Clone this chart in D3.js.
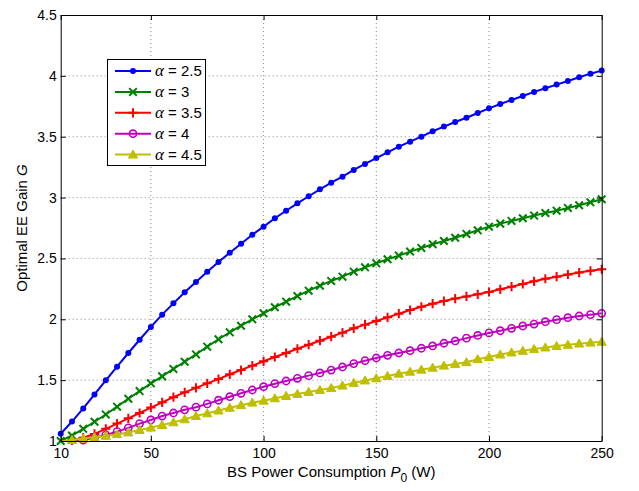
<!DOCTYPE html>
<html>
<head>
<meta charset="utf-8">
<script src="https://cdn.jsdelivr.net/npm/d3@7"></script>
<style>
    body { margin: 0; background: #fff; }
    text { font-family: "Liberation Sans", Arial, sans-serif; }
</style>
</head>
<body>
<svg id="chart" width="639" height="491"></svg>
<script>
// BS power consumption P0 (W), one sample every 5 W
const p0 = [10, 15, 20, 25, 30, 35, 40, 45, 50, 55, 60, 65, 70, 75, 80, 85, 90, 95, 100,
    105, 110, 115, 120, 125, 130, 135, 140, 145, 150, 155, 160, 165, 170, 175, 180, 185,
    190, 195, 200, 205, 210, 215, 220, 225, 230, 235, 240, 245, 250];

const gain_a25 = [1.06, 1.16, 1.268, 1.383, 1.499, 1.611, 1.723, 1.832, 1.937, 2.038, 2.131,
    2.222, 2.307, 2.391, 2.471, 2.547, 2.621, 2.695, 2.761, 2.830, 2.892, 2.953, 3.011, 3.068,
    3.122, 3.172, 3.227, 3.276, 3.325, 3.372, 3.418, 3.459, 3.500, 3.545, 3.583, 3.621, 3.656,
    3.695, 3.733, 3.769, 3.802, 3.835, 3.868, 3.898, 3.928, 3.958, 3.988, 4.018, 4.043];
const gain_a3 = [1.0, 1.045, 1.10, 1.158, 1.218, 1.282, 1.347, 1.41, 1.474, 1.531, 1.592,
    1.651, 1.711, 1.775, 1.836, 1.893, 1.947, 2.0, 2.049, 2.099, 2.145, 2.191, 2.235, 2.276,
    2.315, 2.35, 2.391, 2.427, 2.46, 2.493, 2.523, 2.556, 2.586, 2.617, 2.643, 2.670, 2.701,
    2.731, 2.761, 2.786, 2.808, 2.830, 2.852, 2.873, 2.892, 2.915, 2.937, 2.961, 2.986];
const gain_a35 = [0.995, 1.005, 1.027, 1.058, 1.10, 1.143, 1.186, 1.23, 1.275, 1.318, 1.36,
    1.40, 1.437, 1.474, 1.509, 1.548, 1.583, 1.619, 1.655, 1.690, 1.723, 1.758, 1.791, 1.824,
    1.857, 1.890, 1.926, 1.956, 1.986, 2.016, 2.046, 2.076, 2.103, 2.128, 2.150, 2.170, 2.188,
    2.205, 2.224, 2.246, 2.268, 2.290, 2.312, 2.333, 2.350, 2.368, 2.384, 2.398, 2.411];
const gain_a4 = [0.985, 0.995, 1.008, 1.027, 1.05, 1.077, 1.108, 1.143, 1.173, 1.205, 1.23,
    1.256, 1.278, 1.305, 1.335, 1.364, 1.392, 1.419, 1.446, 1.471, 1.493, 1.515, 1.537, 1.559,
    1.583, 1.608, 1.636, 1.66, 1.682, 1.704, 1.723, 1.742, 1.762, 1.781, 1.803, 1.822, 1.845,
    1.867, 1.888, 1.906, 1.926, 1.945, 1.961, 1.98, 1.997, 2.013, 2.027, 2.038, 2.049];
const gain_a45 = [0.995, 1.008, 1.02, 1.03, 1.042, 1.056, 1.07, 1.09, 1.11, 1.131, 1.153,
    1.178, 1.205, 1.227, 1.25, 1.273, 1.294, 1.315, 1.331, 1.351, 1.37, 1.386, 1.403, 1.419,
    1.435, 1.455, 1.477, 1.497, 1.515, 1.534, 1.553, 1.569, 1.586, 1.602, 1.619, 1.633, 1.647,
    1.672, 1.69, 1.71, 1.727, 1.741, 1.755, 1.768, 1.78, 1.79, 1.80, 1.808, 1.815];

const alpha_labels = ["2.5", "3", "3.5", "4", "4.5"];
const x_ticks = [10, 50, 100, 150, 200, 250];
const y_ticks = [1, 1.5, 2, 2.5, 3, 3.5, 4, 4.5];

const series = [
    {label: alpha_labels[0], values: gain_a25, color: '#0000ff', marker: 'dot'},
    {label: alpha_labels[1], values: gain_a3, color: '#008000', marker: 'x'},
    {label: alpha_labels[2], values: gain_a35, color: '#ff0000', marker: 'plus'},
    {label: alpha_labels[3], values: gain_a4, color: '#bf00bf', marker: 'circle'},
    {label: alpha_labels[4], values: gain_a45, color: '#bfbf00', marker: 'triangle'},
];

const svg = d3.select('#chart');

const LEFT = 60.7, RIGHT = 601.7, TOP = 15, BOTTOM = 441;
const TICK_LEN = 5;

const x = d3.scaleLinear().domain([10, 250]).range([LEFT, RIGHT]);
const y = d3.scaleLinear().domain([1, 4.5]).range([BOTTOM, TOP]);

svg.append('rect')
    .attr('x', 0).attr('y', 0).attr('width', 639).attr('height', 491)
    .attr('fill', '#fff');

svg.append('clipPath').attr('id', 'plot-clip')
    .append('rect')
    .attr('x', LEFT).attr('y', TOP)
    .attr('width', RIGHT - LEFT).attr('height', BOTTOM - TOP);

drawGrid();
drawSeries();
drawAxes();
drawLabels();
drawLegend();


function drawGrid() {
    const grid = svg.append('g').attr('class', 'grid');
    grid.selectAll('.vgrid')
        .data(x_ticks.slice(1, -1))
        .enter().append('line')
        .attr('x1', d => x(d)).attr('x2', d => x(d))
        .attr('y1', TOP).attr('y2', BOTTOM)
        .attr('stroke', '#8c8c8c')
        .attr('stroke-width', 1)
        .attr('stroke-dasharray', '1,3');
    grid.selectAll('.hgrid')
        .data(y_ticks.slice(1, -1))
        .enter().append('line')
        .attr('x1', LEFT).attr('x2', RIGHT)
        .attr('y1', d => y(d)).attr('y2', d => y(d))
        .attr('stroke', '#8c8c8c')
        .attr('stroke-width', 1)
        .attr('stroke-dasharray', '1,3');
}

function drawMarker(g, type, cx, cy, color) {
    if (type === 'dot') {
        g.append('circle')
            .attr('cx', cx).attr('cy', cy).attr('r', 3)
            .attr('fill', color);
    } else if (type === 'x') {
        const s = 3.8;
        g.append('path')
            .attr('d', `M${cx - s},${cy - s}L${cx + s},${cy + s}M${cx - s},${cy + s}L${cx + s},${cy - s}`)
            .attr('stroke', color).attr('stroke-width', 2).attr('fill', 'none');
    } else if (type === 'plus') {
        const s = 4.6;
        g.append('path')
            .attr('d', `M${cx - s},${cy}L${cx + s},${cy}M${cx},${cy - s}L${cx},${cy + s}`)
            .attr('stroke', color).attr('stroke-width', 2).attr('fill', 'none');
    } else if (type === 'circle') {
        g.append('circle')
            .attr('cx', cx).attr('cy', cy).attr('r', 3.6)
            .attr('fill', 'none')
            .attr('stroke', color).attr('stroke-width', 1.6);
    } else if (type === 'triangle') {
        const s = 4.6;
        g.append('path')
            .attr('d', `M${cx},${cy - s}L${cx + s},${cy + s * 0.75}L${cx - s},${cy + s * 0.75}Z`)
            .attr('fill', color)
            .attr('stroke', color).attr('stroke-width', 1);
    }
}

function drawSeries() {
    const line = d3.line()
        .x((d, i) => x(p0[i]))
        .y(d => y(d));

    series.forEach(s => {
        const g = svg.append('g').attr('class', 'series');
        g.append('path')
            .datum(s.values)
            .attr('d', line)
            .attr('fill', 'none')
            .attr('stroke', s.color)
            .attr('stroke-width', 2)
            .attr('clip-path', 'url(#plot-clip)');

        const mg = g.append('g');
        s.values.forEach((v, i) => {
            if (v < 1) return;   // points below the axes are clipped
            drawMarker(mg, s.marker, x(p0[i]), y(v), s.color);
        });
    });
}

function drawAxes() {
    const style = g => {
        g.selectAll('.domain').attr('stroke', '#000').attr('stroke-width', 1);
        g.selectAll('.tick line').attr('stroke', '#000').attr('stroke-width', 1);
        g.selectAll('text')
            .attr('font-size', 14)
            .attr('fill', '#000')
            .attr('font-family', '"Liberation Sans", Arial, sans-serif');
    };

    svg.append('g')
        .attr('transform', `translate(0,${BOTTOM})`)
        .call(d3.axisBottom(x).tickValues(x_ticks).tickFormat(d3.format('d'))
            .tickSizeInner(-TICK_LEN).tickSizeOuter(0).tickPadding(7))
        .call(style);

    svg.append('g')
        .attr('transform', `translate(0,${TOP})`)
        .call(d3.axisTop(x).tickValues(x_ticks).tickFormat('')
            .tickSizeInner(-TICK_LEN).tickSizeOuter(0))
        .call(style);

    svg.append('g')
        .attr('transform', `translate(${LEFT},0)`)
        .call(d3.axisLeft(y).tickValues(y_ticks).tickFormat(d3.format('~g'))
            .tickSizeInner(-TICK_LEN).tickSizeOuter(0).tickPadding(4))
        .call(style);

    svg.append('g')
        .attr('transform', `translate(${RIGHT},0)`)
        .call(d3.axisRight(y).tickValues(y_ticks).tickFormat('')
            .tickSizeInner(-TICK_LEN).tickSizeOuter(0))
        .call(style);
}

function drawLabels() {
    const xl = svg.append('text')
        .attr('x', (LEFT + RIGHT) / 2)
        .attr('y', 477)
        .attr('text-anchor', 'middle')
        .attr('font-size', 15)
        .attr('fill', '#000');
    xl.append('tspan').text('BS Power Consumption ');
    xl.append('tspan').text('P').attr('font-style', 'italic');
    xl.append('tspan').text('0').attr('font-size', 12).attr('font-style', 'normal').attr('dy', 5);
    xl.append('tspan').text(' (W)').attr('dy', -5);

    const yl = svg.append('text')
        .attr('transform', `translate(27,${(TOP + BOTTOM) / 2}) rotate(-90)`)
        .attr('text-anchor', 'middle')
        .attr('font-size', 15)
        .attr('fill', '#000');
    yl.append('tspan').text('Optimal EE Gain ');
    yl.append('tspan').text('G').attr('font-style', 'italic');
}

function drawLegend() {
    const lg = svg.append('g').attr('class', 'legend');
    lg.append('rect')
        .attr('x', 107.5).attr('y', 59.5)
        .attr('width', 98).attr('height', 106)
        .attr('fill', '#fff')
        .attr('stroke', '#000').attr('stroke-width', 1);

    const ROW0 = 71, ROW_H = 20.9;
    series.forEach((s, i) => {
        const cy = ROW0 + i * ROW_H;
        lg.append('line')
            .attr('x1', 115).attr('x2', 151)
            .attr('y1', cy).attr('y2', cy)
            .attr('stroke', s.color).attr('stroke-width', 2);
        drawMarker(lg, s.marker, 133, cy, s.color);

        const t = lg.append('text')
            .attr('x', 155).attr('y', cy + 5)
            .attr('font-size', 15)
            .attr('fill', '#000');
        t.append('tspan').text('α')
            .attr('font-family', '"Liberation Serif", "DejaVu Serif", serif')
            .attr('font-style', 'italic')
            .attr('font-size', 17);
        t.append('tspan').text(' = ' + s.label);
    });
}
</script>
</body>
</html>
